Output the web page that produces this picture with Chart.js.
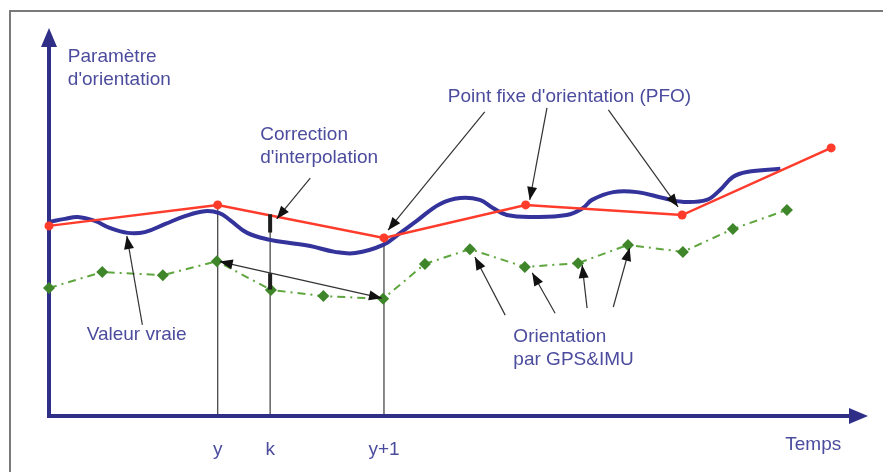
<!DOCTYPE html>
<html lang="fr">
<head>
<meta charset="utf-8">
<title>Point fixe d'orientation</title>
<script src="https://cdn.jsdelivr.net/npm/chart.js@4.4.1/dist/chart.umd.min.js"></script>
<style>
  html, body { margin: 0; padding: 0; background: #fff; }
  #wrap { width: 883px; height: 472px; }
</style>
</head>
<body>
<div id="wrap"><canvas id="orientationChart" width="883" height="472"></canvas></div>
<script>
// Points fixes d'orientation (PFO)
const pfoTemps = [0, 20.6, 40.9, 58.2, 77.3, 95.5];
const pfoValeurs = [49.0, 54.4, 45.9, 54.4, 51.8, 69.1];

// Valeur vraie
const vraiTemps = [0, 1.95, 3.5, 5.6, 7.4, 9.6, 11.7, 14.2, 16.6, 19.0, 20.8, 22.1, 24.2, 27.0, 29.4, 31.9, 34.9, 37.4, 40.8, 42.9,
    44.9, 47.7, 50.2, 52.6, 54.2, 55.9, 59.1, 63.2, 65.2, 66.3, 68.9, 71.8, 75.0, 77.3, 80.3, 81.9, 83.5, 85.2, 89.3];
const vraiValeurs = [50.0, 50.8, 51.3, 50.3, 48.5, 47.2, 47.4, 49.5, 51.5, 52.8, 52.3, 50.5, 47.2, 45.4, 44.6, 43.8, 42.3, 42.0, 44.1, 47.2,
    50.3, 54.6, 56.2, 55.7, 53.6, 51.8, 51.3, 51.8, 53.6, 55.7, 57.7, 57.7, 56.2, 55.2, 55.7, 58.2, 61.6, 62.9, 63.7];

// Orientation par GPS&IMU
const gpsTemps = [0, 6.5, 13.9, 20.5, 27.1, 33.5, 40.8, 45.9, 51.4, 58.1, 64.6, 70.7, 77.4, 83.5, 90.1];
const gpsValeurs = [33.0, 37.1, 36.3, 39.9, 32.5, 30.9, 30.2, 39.2, 43.0, 38.4, 39.4, 44.1, 42.3, 48.2, 53.1];

// Repères sur l'axe du temps
const tickPositions = [20.6, 27.0, 40.9];
const tickLabels = ['y', 'k', 'y+1'];

const TEXT_COLOR = '#4c4c9e';
const AXIS_COLOR = '#2f2f88';
const FONT = '19px "Liberation Sans", Arial, sans-serif';

const toPoints = (xs, ys) => xs.map((x, i) => ({ x: x, y: ys[i] }));

// interpolation linéaire sur une série
const interp = (xs, ys, x) => {
    for (let i = 0; i < xs.length - 1; i++) {
        if (x >= xs[i] && x <= xs[i + 1]) {
            return ys[i] + (x - xs[i]) / (xs[i + 1] - xs[i]) * (ys[i + 1] - ys[i]);
        }
    }
    return ys[ys.length - 1];
};

// textes de la figure (position en unités du graphique)
const labels = [
    { text: 'Paramètre', x: 2.3, y: 91.2 },
    { text: "d'orientation", x: 2.3, y: 85.3 },
    { text: 'Correction', x: 25.8, y: 71.1 },
    { text: "d'interpolation", x: 25.8, y: 65.2 },
    { text: "Point fixe d'orientation (PFO)", x: 48.7, y: 80.9 },
    { text: 'Valeur vraie', x: 4.6, y: 19.6 },
    { text: 'Orientation', x: 56.7, y: 19.1 },
    { text: 'par GPS&IMU', x: 56.7, y: 13.1 },
    { text: 'Temps', x: 89.9, y: -8.8 }
];

// flèches d'annotation : [queue x, queue y, tête x, tête y]
const fleches = [
    [31.9, 61.3, 27.8, 50.8],
    [53.2, 78.4, 41.4, 47.9],
    [60.8, 79.4, 58.7, 55.7],
    [68.3, 78.9, 76.8, 53.9],
    [11.4, 23.5, 9.5, 46.4],
    [55.7, 26.0, 52.0, 41.0],
    [61.8, 26.5, 59.0, 36.9],
    [65.7, 27.8, 65.1, 38.9],
    [68.9, 28.1, 70.9, 43.3]
];

function drawHead(ctx, x1, y1, x2, y2, len, width) {
    const a = Math.atan2(y2 - y1, x2 - x1);
    const c = Math.cos(a), s = Math.sin(a);
    ctx.beginPath();
    ctx.moveTo(x2, y2);
    ctx.lineTo(x2 - len * c + width / 2 * s, y2 - len * s - width / 2 * c);
    ctx.lineTo(x2 - len * c - width / 2 * s, y2 - len * s + width / 2 * c);
    ctx.closePath();
    ctx.fill();
}

const decorPlugin = {
    id: 'decor',
    beforeDatasetsDraw(chart) {
        const ctx = chart.ctx;
        const xs = chart.scales.x, ys = chart.scales.y;
        const area = chart.chartArea;
        ctx.save();

        // cadre
        ctx.strokeStyle = '#7a7a7a';
        ctx.lineWidth = 2;
        ctx.beginPath();
        ctx.moveTo(10, chart.height);
        ctx.lineTo(10, 11);
        ctx.lineTo(chart.width, 11);
        ctx.stroke();

        // lignes verticales y, k, y+1
        ctx.strokeStyle = '#3a3a3a';
        ctx.lineWidth = 1.2;
        tickPositions.forEach((t) => {
            const top = interp(pfoTemps, pfoValeurs, t);
            const x = xs.getPixelForValue(t);
            ctx.beginPath();
            ctx.moveTo(x, ys.getPixelForValue(0));
            ctx.lineTo(x, ys.getPixelForValue(top));
            ctx.stroke();
        });

        // axes avec flèches
        ctx.strokeStyle = AXIS_COLOR;
        ctx.fillStyle = AXIS_COLOR;
        ctx.lineWidth = 4;
        ctx.beginPath();
        ctx.moveTo(area.left, area.top + 14);
        ctx.lineTo(area.left, area.bottom);
        ctx.lineTo(area.right - 14, area.bottom);
        ctx.stroke();
        drawHead(ctx, area.left, area.bottom, area.left, area.top, 19, 16);
        drawHead(ctx, area.left, area.bottom, area.right, area.bottom, 19, 16);
        ctx.restore();
    },
    afterDatasetsDraw(chart) {
        const ctx = chart.ctx;
        const xs = chart.scales.x, ys = chart.scales.y;
        const X = (v) => xs.getPixelForValue(v);
        const Y = (v) => ys.getPixelForValue(v);
        ctx.save();

        // corrections au temps k
        const k = tickPositions[1];
        const redK = interp(pfoTemps, pfoValeurs, k);
        const gpsY = interp(gpsTemps, gpsValeurs, tickPositions[0]);
        const gpsY1 = interp(gpsTemps, gpsValeurs, tickPositions[2]);
        const lineK = gpsY + (k - tickPositions[0]) / (tickPositions[2] - tickPositions[0]) * (gpsY1 - gpsY);
        ctx.strokeStyle = '#1e1e1e';
        ctx.lineWidth = 4;
        ctx.beginPath();
        ctx.moveTo(X(k), Y(redK) - 1);
        ctx.lineTo(X(k), Y(redK - 4.4));
        ctx.moveTo(X(k), Y(lineK));
        ctx.lineTo(X(k), Y(interp(gpsTemps, gpsValeurs, k)));
        ctx.stroke();

        // flèches simples
        ctx.strokeStyle = '#333';
        ctx.fillStyle = '#111';
        ctx.lineWidth = 1.2;
        fleches.forEach(([x1, y1, x2, y2]) => {
            ctx.beginPath();
            ctx.moveTo(X(x1), Y(y1));
            ctx.lineTo(X(x2), Y(y2));
            ctx.stroke();
            drawHead(ctx, X(x1), Y(y1), X(x2), Y(y2), 13, 10);
        });

        // flèche double entre y et y+1
        const ax = X(tickPositions[0]) + 2, ay = Y(gpsY);
        const bx = X(tickPositions[2]) - 2, by = Y(gpsY1);
        ctx.beginPath();
        ctx.moveTo(ax, ay);
        ctx.lineTo(bx, by);
        ctx.stroke();
        drawHead(ctx, bx, by, ax, ay, 13, 10);
        drawHead(ctx, ax, ay, bx, by, 13, 10);

        // textes
        ctx.fillStyle = TEXT_COLOR;
        ctx.font = FONT;
        ctx.textAlign = 'left';
        ctx.textBaseline = 'alphabetic';
        labels.forEach((l) => ctx.fillText(l.text, X(l.x), Y(l.y)));

        // étiquettes de l'axe du temps
        ctx.textAlign = 'center';
        tickPositions.forEach((t, i) => ctx.fillText(tickLabels[i], X(t), Y(0) + 39));
        ctx.restore();
    }
};

const ctx = document.getElementById('orientationChart').getContext('2d');
const orientationChart = new Chart(ctx, {
    type: 'scatter',
    data: {
        datasets: [
            {
                label: "Point fixe d'orientation (PFO)",
                data: toPoints(pfoTemps, pfoValeurs),
                showLine: true,
                borderColor: '#ff3b2b',
                backgroundColor: '#ff3b2b',
                borderWidth: 2.5,
                pointRadius: 4.5,
                pointBorderWidth: 0,
                tension: 0,
                clip: false
            },
            {
                label: 'Valeur vraie',
                data: toPoints(vraiTemps, vraiValeurs),
                showLine: true,
                borderColor: '#33339b',
                borderWidth: 4,
                pointRadius: 0,
                tension: 0.4,
                clip: false
            },
            {
                label: 'Orientation par GPS&IMU',
                data: toPoints(gpsTemps, gpsValeurs),
                showLine: true,
                borderColor: '#5fa63e',
                backgroundColor: '#3f862a',
                borderWidth: 2,
                borderDash: [8, 5, 2, 5],
                pointStyle: 'rectRot',
                pointRadius: 6,
                pointBorderWidth: 0,
                tension: 0,
                clip: false
            }
        ]
    },
    options: {
        responsive: false,
        animation: false,
        layout: { padding: { left: 49, right: 15, top: 28, bottom: 56 } },
        plugins: { legend: { display: false }, tooltip: { enabled: false } },
        scales: {
            x: { type: 'linear', min: 0, max: 100, display: false },
            y: { type: 'linear', min: 0, max: 100, display: false }
        }
    },
    plugins: [decorPlugin]
});
</script>
</body>
</html>
